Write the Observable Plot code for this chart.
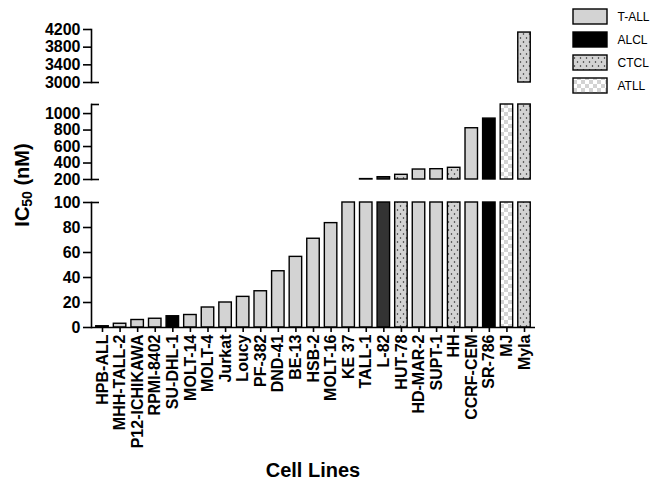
<!DOCTYPE html>
<html>
<head>
<meta charset="utf-8">
<script src="https://cdn.jsdelivr.net/npm/d3@7"></script>
<script src="https://cdn.jsdelivr.net/npm/@observablehq/plot@0.6"></script>
<style>
  html, body { margin: 0; padding: 0; background: #fff; }
  #chart { position: relative; width: 651px; height: 483px; overflow: hidden; font-family: "Liberation Sans", Arial, sans-serif; }
  #chart > svg, #chart > div.layer { position: absolute; left: 0; top: 0; }
  .ytitle { position: absolute; left: -78px; top: 173px; width: 200px; line-height: 24px; text-align: center;
            transform: rotate(-90deg); font-weight: bold; font-size: 20px; white-space: nowrap; }
  .ytitle sub { font-size: 14px; vertical-align: -3px; line-height: 0; }
  .xtitle { position: absolute; left: 213px; top: 459px; width: 200px; text-align: center; font-weight: bold; font-size: 20px; }
</style>
</head>
<body>
<svg width="0" height="0" style="position:absolute">
  <defs>
    <pattern id="dots" patternUnits="userSpaceOnUse" width="6" height="8">
      <rect width="6" height="8" fill="#d3d3d3"></rect>
      <circle cx="1.5" cy="2" r="0.75" fill="#222"></circle>
      <circle cx="4.5" cy="6" r="0.75" fill="#222"></circle>
    </pattern>
    <pattern id="checker" patternUnits="userSpaceOnUse" width="8" height="8">
      <rect width="8" height="8" fill="#ffffff"></rect>
      <rect x="0" y="0" width="4" height="4" fill="#d3d3d3"></rect>
      <rect x="4" y="4" width="4" height="4" fill="#d3d3d3"></rect>
    </pattern>
  </defs>
</svg>
<div id="chart"></div>
<script>
// ---- data ----
const cellLines = ["HPB-ALL","MHH-TALL-2","P12-ICHIKAWA","RPMI-8402","SU-DHL-1","MOLT-14","MOLT-4","Jurkat","Loucy","PF-382","DND-41","BE-13","HSB-2","MOLT-16","KE 37","TALL-1","L-82","HUT-78","HD-MAR-2","SUPT-1","HH","CCRF-CEM","SR-786","MJ","Myla"];
const ic50 = [1, 3, 6, 7, 9, 10, 16, 20, 24.5, 29, 45, 56.5, 71, 83.5, 100, 205, 228, 257, 321, 325, 342, 822, 939, 1500, 4131];
const lineType = ["T-ALL","T-ALL","T-ALL","T-ALL","ALCL","T-ALL","T-ALL","T-ALL","T-ALL","T-ALL","T-ALL","T-ALL","T-ALL","T-ALL","T-ALL","T-ALL","ALCL","CTCL","T-ALL","T-ALL","CTCL","T-ALL","ALCL","ATLL","CTCL"];
const legendTypes = ["T-ALL","ALCL","CTCL","ATLL"];
const ticksTop = [3000, 3400, 3800, 4200];
const ticksMid = [200, 400, 600, 800, 1000];
const ticksLow = [0, 20, 40, 60, 80, 100];

// ---- styles ----
const fillFor = {"T-ALL": "#d3d3d3", "ALCL": "#000000", "CTCL": "url(#dots)", "ATLL": "url(#checker)"};
const darkShade = {"L-82": "#333333"};

const rows = cellLines.map((name, i) => ({name, value: ic50[i], type: lineType[i]}));
const barFill = d => darkShade[d.name] || fillFor[d.type];

const W = 651, H = 483, ML = 91, MR = 116;
const font = "'Liberation Sans', Arial, sans-serif";

function panel({lo, hi, ticks, marginTop, marginBottom, breaks, xAxis}) {
  const data = rows.filter(d => d.value > lo);
  const marks = [
    Plot.barY(data, {x: "name", y1: lo, y2: d => Math.min(d.value, hi), fill: barFill, stroke: "#000", strokeWidth: 1.4}),
    Plot.frame({anchor: "left", strokeWidth: 1.6}),
    Plot.axisY(ticks, {tickSize: 8, tickPadding: 3, fontSize: 16, fontWeight: "bold", strokeWidth: 1.6, fill: "#000", tickFormat: d => String(d)}),
    Plot.axisY(breaks, {tickSize: 8, dx: 8, tickFormat: () => "", strokeWidth: 1.6})
  ];
  if (xAxis) {
    marks.push(Plot.ruleY([lo], {strokeWidth: 1.6}));
    marks.push(Plot.axisX({tickRotate: -90, tickSize: 5, tickPadding: 2, fontSize: 16, fontWeight: "bold", strokeWidth: 1.6, fill: "#000", label: null}));
  }
  const xOpts = {domain: cellLines, paddingInner: 0.29, paddingOuter: 0.27, align: 0.5, round: false};
  if (!xAxis) xOpts.axis = null;
  return Plot.plot({
    width: W, height: H, marginLeft: ML, marginRight: MR, marginTop, marginBottom,
    style: {background: "transparent", fontFamily: font, overflow: "visible", color: "#000"},
    x: xOpts,
    y: {domain: [lo, hi], axis: null},
    color: {type: "identity"},
    marks
  });
}

const chart = document.getElementById("chart");
chart.append(panel({lo: 3000, hi: 4200, ticks: ticksTop, marginTop: 29, marginBottom: H - 82, breaks: [3000], xAxis: false}));
chart.append(panel({lo: 200, hi: 1110, ticks: ticksMid, marginTop: 104, marginBottom: H - 179, breaks: [200, 1110], xAxis: false}));
chart.append(panel({lo: 0, hi: 100, ticks: ticksLow, marginTop: 202, marginBottom: H - 327, breaks: [100], xAxis: true}));

// legend
const legend = Plot.plot({
  width: 78, height: 100, marginLeft: 0, marginRight: 44, marginTop: 9, marginBottom: 6,
  style: {background: "transparent", fontFamily: font, overflow: "visible", color: "#000"},
  x: {axis: null},
  y: {domain: legendTypes, paddingInner: 0.33, paddingOuter: 0, axis: null},
  color: {type: "identity"},
  marks: [
    Plot.cell(legendTypes, {y: d => d, fill: d => fillFor[d], stroke: "#000", strokeWidth: 1.4}),
    Plot.text(legendTypes, {y: d => d, text: d => d, frameAnchor: "right", dx: 10, textAnchor: "start", fontSize: 12, fill: "#000"})
  ]
});
legend.style.left = "573px";
chart.append(legend);

const yt = document.createElement("div");
yt.className = "ytitle";
yt.innerHTML = "IC<sub>50</sub> (nM)";
chart.append(yt);

const xt = document.createElement("div");
xt.className = "xtitle";
xt.textContent = "Cell Lines";
chart.append(xt);
</script>
</body>
</html>
